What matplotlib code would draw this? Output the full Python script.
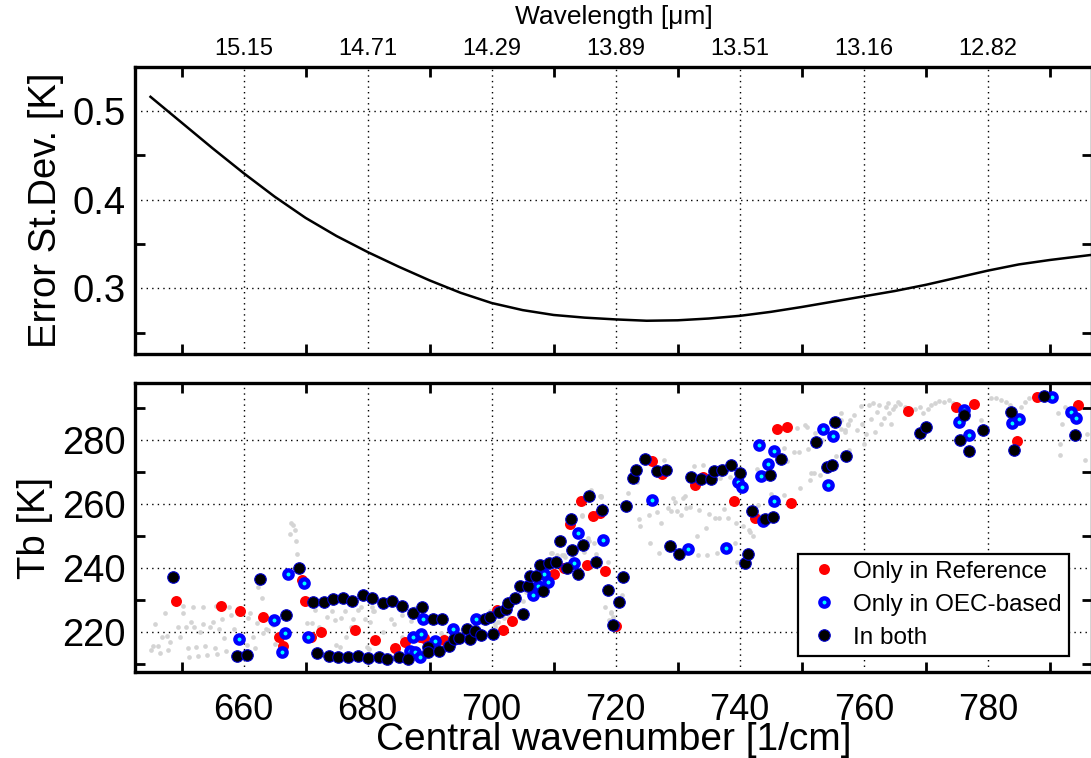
import matplotlib
matplotlib.use("Agg")
import matplotlib.pyplot as plt
from matplotlib.lines import Line2D

plt.rcParams['font.family'] = ['Liberation Sans', 'DejaVu Sans']

# ---------------- data ----------------
# top panel: error standard deviation curve
curve_wn = [645, 650, 655, 660, 665, 670, 675, 680, 685, 690, 695, 700, 705, 710,
            715, 720, 725, 730, 735, 740, 745, 750, 755, 760, 765, 770, 775, 780,
            785, 790, 797]
curve_err = [0.516, 0.487, 0.458, 0.430, 0.4035, 0.3795, 0.359, 0.341, 0.3245, 0.309,
             0.295, 0.2835, 0.2755, 0.270, 0.267, 0.265, 0.2635, 0.264, 0.266, 0.269,
             0.2735, 0.279, 0.285, 0.291, 0.297, 0.304, 0.312, 0.320, 0.327, 0.332,
             0.338]

# bottom panel: all channels (grey)
gray_wn = [645.0, 645.4, 645.7, 646.2, 646.5, 646.9, 647.3, 647.6, 647.9, 648.2, 649.4, 649.8,
           650.3, 650.2, 650.7, 651.1, 651.2, 651.6, 651.9, 652.0, 652.3, 652.6, 652.9, 653.4,
           653.4, 653.8, 654.1, 654.6, 655.0, 655.4, 655.6, 655.8, 656.1, 656.6, 656.9, 657.2,
           657.6, 658.0, 658.5, 659.6, 660.6, 660.7, 661.1, 661.5, 661.9, 662.2, 662.4, 662.9,
           663.1, 663.6, 664.0, 664.4, 664.8, 665.0, 665.6, 667.5, 667.6, 667.9, 668.3, 668.5,
           668.7, 670.2, 671.0, 671.5, 672.2, 673.4, 674.2, 674.9, 674.8, 675.5, 675.7, 676.3,
           676.5, 677.4, 677.7, 678.5, 679.0, 679.6, 679.9, 680.2, 680.7, 681.0,
           680.4, 680.9, 682.5, 683.8, 684.2, 685.6, 687.0, 687.7, 686.9, 685.6, 690.7, 691.9,
           692.3, 692.9, 694.2, 695.3, 696.3, 697.1, 699.0, 699.7, 700.5, 701.0, 702.0, 702.8,
           705.0, 705.5, 706.3, 707.1, 709.5, 710.5, 711.3, 711.9, 713.0, 714.5, 716.0, 717.5,
           715.6, 716.5, 718.7, 719.2, 718.9, 718.2,
           714.6, 714.9, 715.7, 709.7, 710.6, 711.7, 716.9, 700.5, 717.6,
           719.2, 719.5, 721.0, 717.7, 722.0, 723.5, 723.8, 724.0, 725.6, 725.3, 726.7, 727.3,
           727.0, 727.8, 728.4, 729.0, 729.3, 729.5, 729.9, 730.5, 730.8, 731.1, 731.3, 732.0,
           732.6, 733.1, 733.3, 733.5, 734.0, 734.6, 734.8, 735.1, 736.0, 736.3, 736.7, 736.9,
           737.5, 738.1, 738.4, 739.4, 739.2, 739.6, 740.5, 741.7, 742.1, 742.8, 742.9, 743.0,
           745.1, 747.1, 747.2, 747.7, 748.7, 749.3, 749.6, 749.8, 750.5, 750.8, 751.0, 751.3,
           751.5, 752.1, 752.9, 753.3, 755.6, 756.3, 757.0, 757.5, 756.4, 757.7, 752.0, 741.5,
           756.3, 756.9, 757.4, 757.8, 758.5, 758.9, 759.5, 759.7, 760.0, 760.4, 760.9, 761.2,
           761.5, 761.8, 762.2, 762.5, 762.8, 763.2, 763.6, 763.9, 764.1, 764.4, 764.7, 765.0,
           765.5, 765.9, 766.6, 768.2, 769.0, 769.5, 770.3, 770.8, 771.5, 772.2, 773.0, 773.7,
           774.4, 778.9, 779.9, 780.5, 781.3, 782.2, 783.0, 783.5, 785.4, 786.0, 786.7, 791.3,
           791.6, 791.7, 792.0, 792.5, 795.6, 796.0]
gray_tb = [214.3, 215.6, 222.4, 215.5, 213.2, 218.4, 226.0, 218.6, 214.3, 216.8, 221.6, 218.2,
           228.2, 225.7, 221.5, 214.8, 212.2, 223.1, 227.6, 221.6, 215.1, 212.4, 220.0, 222.4,
           227.8, 215.6, 212.7, 221.6, 223.1, 214.8, 228.0, 213.0, 220.7, 224.0, 217.9, 214.1,
           227.8, 225.2, 221.0, 226.8, 215.8, 224.2, 225.7, 218.4, 214.8, 222.6, 234.1, 230.7,
           219.5, 221.0, 220.5, 223.6, 222.1, 216.1, 224.2, 250.7, 254.1, 253.3, 251.8, 248.4,
           244.2, 222.8, 222.8, 226.8, 221.6, 224.7, 226.6, 215.8, 223.6, 215.3, 224.2, 226.6,
           218.2, 221.4, 224.0, 226.8, 227.6, 224.0, 215.3, 214.6, 227.6, 226.6,
           223.1, 226.6, 219.8, 224.0, 222.3, 225.2, 223.3, 227.3, 217.4, 218.4, 217.9, 219.7,
           218.6, 217.4, 219.5, 220.5, 221.6, 223.1, 223.6, 226.6, 222.3, 223.1, 224.2, 224.7,
           229.7, 232.5, 233.8, 236.1, 244.5, 243.4, 244.0, 243.4, 243.4, 256.4, 264.3, 262.4,
           249.2, 247.6, 241.9, 226.3, 223.6, 227.8,
           256.3, 245.0, 248.5, 244.5, 244.0, 244.0, 244.2, 221.6, 262.3,
           225.9, 224.5, 231.5, 262.2, 263.4, 266.9, 255.4, 253.1, 247.6, 256.5, 257.5, 253.9,
           244.5, 273.6, 258.6, 257.7, 261.7, 260.6, 257.7, 256.5, 261.7, 262.4, 258.8, 259.1,
           271.8, 249.9, 244.0, 258.0, 272.0, 252.6, 244.0, 256.8, 255.7, 244.5, 255.6, 268.2,
           258.5, 255.7, 268.4, 254.1, 247.6, 241.9, 253.1, 251.3, 250.0, 270.8, 259.6, 256.5,
           263.2, 262.7, 277.5, 273.3, 276.3, 283.8, 276.3, 265.0, 284.6, 284.1, 277.1, 267.4,
           269.5, 282.3, 269.0, 279.9, 274.9, 283.5, 283.0, 285.1, 286.1, 276.8, 269.6, 251.8,
           288.3, 282.5, 284.6, 286.2, 287.7, 283.0, 290.6, 285.1, 278.8, 282.0, 290.9, 286.4,
           291.4, 282.5, 288.8, 290.9, 285.1, 287.0, 290.4, 291.4, 288.3, 285.1, 289.6, 290.6,
           291.9, 291.2, 290.4, 289.8, 290.4, 288.3, 289.8, 290.9, 291.4, 292.3, 291.9, 292.5,
           291.4, 286.2, 283.0, 293.0, 293.0, 292.5, 291.9, 290.9, 290.4, 291.9, 293.0, 288.3,
           278.8, 275.2, 285.1, 290.4, 273.6, 282.0]

# channels selected only in the reference
red_wn = [649.1, 656.4, 659.4, 663.2, 665.7, 666.4, 669.4, 669.9, 670.8, 672.5, 678.0, 681.2,
          684.5, 686.0, 688.5, 689.1, 692.4, 700.8, 701.8, 703.3, 710.0, 711.7, 712.7, 714.4,
          715.4, 716.4, 717.5, 718.2, 720.1, 725.9, 727.5, 732.8, 734.1, 739.0, 742.4, 746.0,
          747.6, 748.3, 767.2, 774.9, 777.7, 784.7, 788.0, 794.5]
red_tb = [229.5, 228.2, 226.5, 224.7, 218.2, 215.5, 236.1, 229.6, 218.2, 219.8, 220.5, 217.3,
          214.8, 216.9, 218.4, 217.9, 217.4, 226.8, 220.6, 223.2, 238.0, 240.0, 253.8, 261.0,
          240.8, 256.1, 257.0, 239.0, 221.8, 273.3, 269.2, 266.0, 268.4, 260.9, 255.5, 283.3,
          284.0, 260.4, 289.1, 290.4, 291.2, 279.7, 293.5, 290.9]

# channels selected only in the OEC-based selection
blue_wn = [659.2, 664.9, 666.2, 666.7, 667.2, 669.7, 670.4, 686.8, 687.4, 687.6, 688.4, 688.6,
           689.0, 690.8, 693.8, 697.5, 706.7, 707.5, 708.5, 709.1, 713.3, 714.0, 718.0, 725.8,
           731.6, 737.8, 739.7, 740.4, 743.1, 743.4, 743.7, 744.5, 745.6, 745.5, 753.4, 754.3,
           755.0, 775.3, 776.2, 777.0, 783.9, 785.1, 790.3, 793.4, 794.2]
blue_tb = [217.7, 223.6, 213.8, 219.5, 238.0, 235.1, 218.5, 214.0, 218.4, 213.5, 212.0, 219.3,
           223.9, 217.1, 221.0, 224.0, 231.4, 234.3, 238.2, 235.4, 241.5, 250.8, 248.8, 261.2,
           245.8, 246.2, 266.8, 265.2, 278.3, 268.6, 254.6, 272.4, 276.5, 260.8, 283.5, 265.9,
           281.3, 285.7, 289.5, 281.5, 285.3, 286.4, 293.5, 288.6, 287.0]

# channels selected in both
black_wn = [648.6, 658.9, 660.5, 662.6, 666.9, 668.9, 671.2, 671.9, 673.0, 673.7, 674.5, 675.2,
            676.0, 676.8, 677.5, 678.5, 679.2, 680.1, 680.7, 681.8, 682.5, 683.2, 684.0, 685.0,
            685.6, 686.5, 687.3, 688.8, 689.7, 689.7, 690.5, 691.5, 692.0, 693.1, 694.0, 694.7,
            696.1, 696.5, 697.3, 698.3, 699.0, 699.7, 700.3, 701.2, 702.3, 702.7, 703.8, 705.0,
            704.5, 705.8, 706.2, 707.1, 708.3, 707.8, 709.3, 710.4, 712.1, 711.0, 713.0, 713.9,
            714.8, 716.8, 712.8, 715.7, 717.8, 718.8, 719.6, 720.5, 721.2, 721.7, 722.8, 723.3,
            724.7, 726.6, 728.1, 728.7, 730.2, 732.2, 733.7, 735.3, 735.9, 737.1, 738.6, 740.1,
            740.9, 741.3, 742.0, 744.0, 745.3, 744.9, 746.6, 752.3, 754.1, 754.9, 755.4, 757.2,
            769.0, 770.1, 775.5, 776.2, 776.9, 779.3, 783.8, 784.2, 789.1, 794.0]
black_tb = [237.1, 212.4, 212.8, 236.4, 225.3, 240.0, 229.4, 213.4, 229.2, 212.5, 230.2, 212.0,
            230.6, 212.2, 229.6, 212.3, 231.4, 211.8, 230.6, 212.2, 228.9, 211.5, 229.6, 212.0,
            228.1, 211.5, 226.0, 227.6, 215.3, 213.8, 223.9, 214.1, 224.0, 215.5, 217.6, 218.1,
            221.0, 217.6, 220.2, 219.0, 223.9, 224.7, 219.3, 226.3, 227.1, 228.9, 230.7, 225.4,
            234.4, 234.4, 237.5, 237.5, 232.8, 240.8, 241.6, 241.7, 239.8, 248.3, 245.7, 238.2,
            247.1, 241.9, 255.4, 262.5, 258.2, 233.2, 222.1, 229.2, 237.0, 259.4, 268.1, 270.5,
            274.0, 270.2, 270.7, 246.9, 244.3, 268.4, 267.7, 267.7, 270.2, 270.5, 272.3, 269.5,
            241.6, 244.3, 257.7, 255.2, 255.9, 269.0, 273.9, 279.2, 271.6, 272.2, 285.6, 274.9,
            282.3, 283.9, 280.1, 287.7, 276.5, 283.0, 288.8, 276.8, 293.8, 281.5]

grid_wn = [660, 680, 700, 720, 740, 760, 780]
wavelength_labels = ['15.15', '14.71', '14.29', '13.89', '13.51', '13.16', '12.82']
tick_marks_wn = [650, 670, 690, 710, 730, 750, 770, 790]
err_grid = [0.3, 0.4, 0.5]
err_marks = [0.25, 0.35, 0.45]
tb_grid = [220, 240, 260, 280]
tb_marks = [210, 230, 250, 270, 290]
legend_labels = ['Only in Reference', 'Only in OEC-based', 'In both']

# ---------------- figure ----------------
W, H = 1091, 758
fig = plt.figure(figsize=(W / 100, H / 100), dpi=100)
left = 135 / W
width = (1092 - 135) / W
ax1 = fig.add_axes([left, 1 - 354 / H, width, (354 - 67) / H])
ax2 = fig.add_axes([left, 1 - 672 / H, width, (672 - 383) / H])

FS = 27.5
grid_kw = dict(color='black', linestyle=(0, (1, 3)), linewidth=1.0)

for ax in (ax1, ax2):
    ax.set_xlim(642.5, 796.8)
    for sp in ax.spines.values():
        sp.set_linewidth(2.4)
    ax.set_xticks(grid_wn)
    ax.set_xticks(tick_marks_wn, minor=True)
    ax.tick_params(which='major', length=0)
    ax.tick_params(which='minor', direction='in', length=7, width=2.0,
                   top=True, bottom=True, left=True, right=True)
    ax.grid(True, which='major', **grid_kw)
    ax.set_axisbelow(True)

# top panel
ax1.plot(curve_wn, curve_err, color='black', linewidth=1.8)
ax1.set_ylim(0.226, 0.5496)
ax1.set_yticks(err_grid)
ax1.set_yticks(err_marks, minor=True)
ax1.set_yticklabels(['0.3', '0.4', '0.5'])
ax1.set_xticklabels(wavelength_labels)
ax1.tick_params(axis='x', which='major', labeltop=True, labelbottom=False,
                labelsize=17, pad=5)
ax1.tick_params(axis='y', which='major', labelsize=FS, pad=7)
ax1.xaxis.set_label_position('top')
ax1.set_xlabel('Wavelength [\u03bcm]', fontsize=19, labelpad=10)
ax1.set_ylabel('Error St.Dev. [K]', fontsize=FS, labelpad=6)

# bottom panel
ax2.plot(gray_wn, gray_tb, linestyle='none', marker='o', markersize=3.4,
         color='#d4d4d4', markeredgewidth=0, zorder=2)
ax2.plot(red_wn, red_tb, linestyle='none', marker='o', markersize=7.9,
         color='#ff0000', markeredgewidth=0, zorder=3)
ax2.plot(blue_wn, blue_tb, linestyle='none', marker='o', markersize=6.0,
         markerfacecolor='#00ffff', markeredgecolor='#0000ff', markeredgewidth=3.1, zorder=4)
ax2.plot(black_wn, black_tb, linestyle='none', marker='o', markersize=8.3,
         markerfacecolor='black', markeredgecolor='#0000cc', markeredgewidth=0.8, zorder=5)
ax2.set_ylim(207.4, 297.8)
ax2.set_yticks(tb_grid)
ax2.set_yticks(tb_marks, minor=True)
ax2.tick_params(axis='y', which='major', labelsize=FS, pad=7)
ax2.tick_params(axis='x', which='major', labelsize=26, pad=15)
ax2.set_ylabel('Tb [K]', fontsize=FS, labelpad=6)
ax2.set_xlabel('Central wavenumber [1/cm]', fontsize=28, labelpad=-4.5)

handles = [
    Line2D([], [], linestyle='none', marker='o', markersize=7.9, color='#ff0000',
           markeredgewidth=0),
    Line2D([], [], linestyle='none', marker='o', markersize=6.0, markerfacecolor='#00ffff',
           markeredgecolor='#0000ff', markeredgewidth=3.1),
    Line2D([], [], linestyle='none', marker='o', markersize=8.3, markerfacecolor='black',
           markeredgecolor='#0000cc', markeredgewidth=0.8),
]
leg = ax2.legend(handles, legend_labels, loc='lower right', bbox_to_anchor=(0.976, 0.055),
                 borderaxespad=0, fontsize=17.5, frameon=True, fancybox=False,
                 framealpha=1, edgecolor='black', labelspacing=0.45, borderpad=0.3,
                 handlelength=1.5, handletextpad=0.45)
leg.get_frame().set_linewidth(1.6)
leg.set_zorder(10)

fig.savefig('out.png', dpi=100)
